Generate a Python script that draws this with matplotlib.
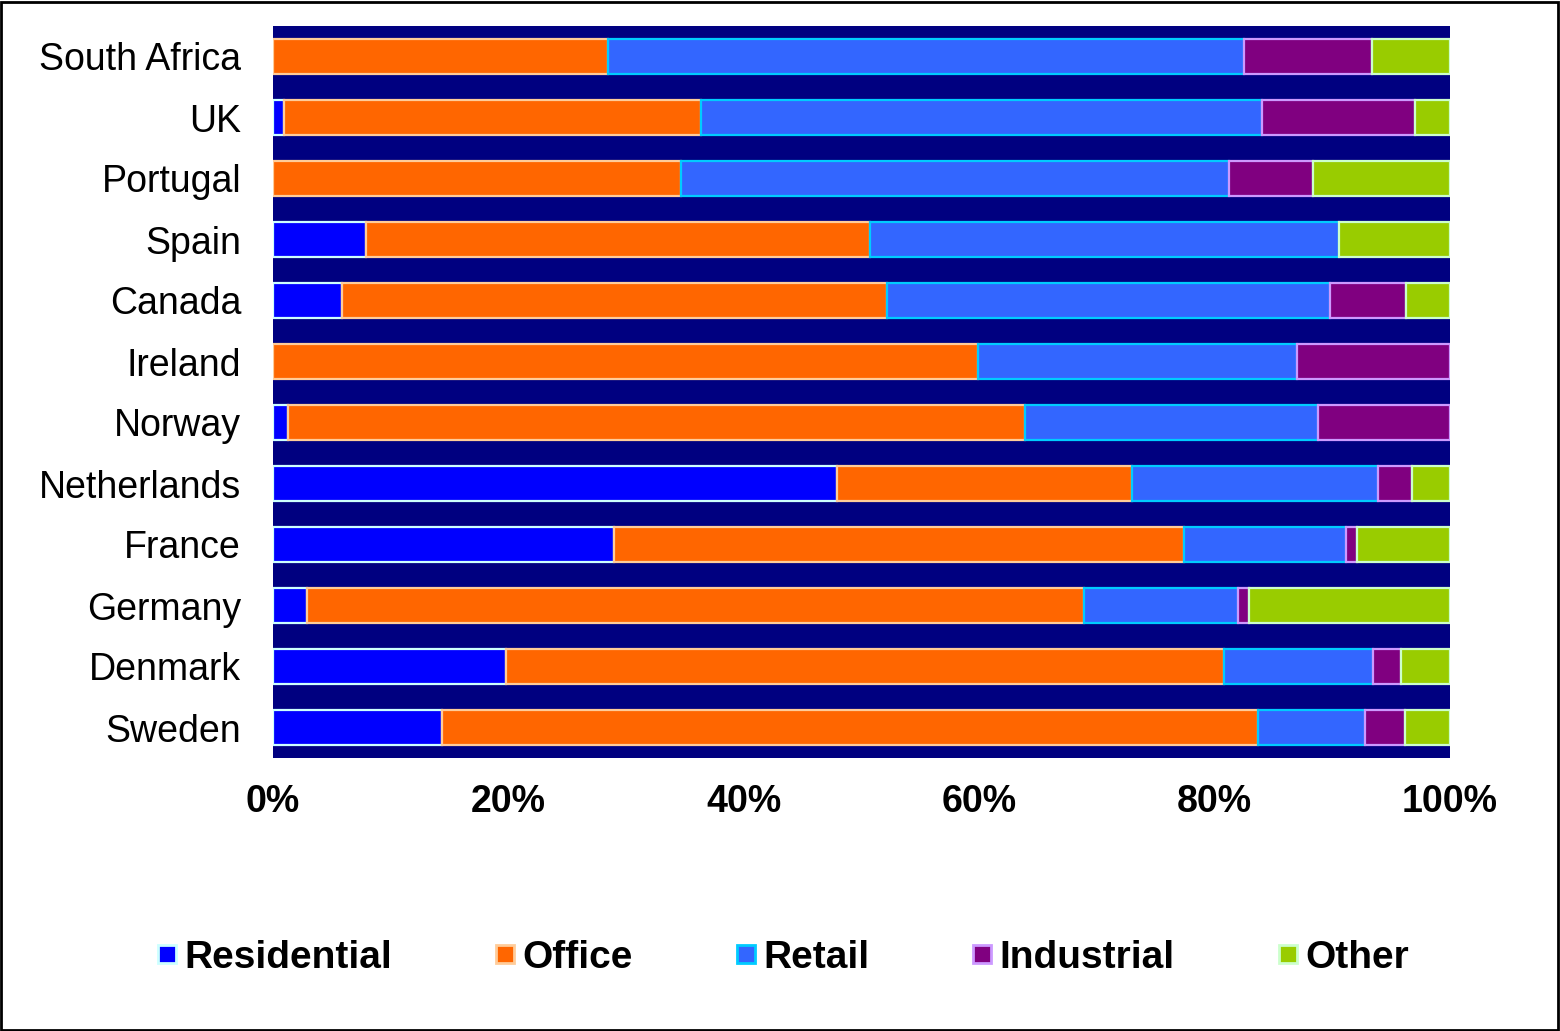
import matplotlib
matplotlib.use("Agg")
import matplotlib.pyplot as plt
from matplotlib.lines import Line2D
from matplotlib.patches import Rectangle
import numpy as np

countries = ["South Africa", "UK", "Portugal", "Spain", "Canada", "Ireland",
             "Norway", "Netherlands", "France", "Germany", "Denmark", "Sweden"]
residential = [0.0, 0.9, 0.0, 7.9, 5.9, 0.0, 1.3, 47.9, 29.0, 2.9, 19.8, 14.4]
office      = [28.5, 35.5, 34.7, 42.8, 46.3, 59.9, 62.6, 25.1, 48.4, 66.0, 61.0, 69.3]
retail      = [54.0, 47.6, 46.5, 39.9, 37.6, 27.1, 24.9, 20.9, 13.8, 13.1, 12.7, 9.1]
industrial  = [10.9, 13.0, 7.2, 0.0, 6.5, 13.0, 11.2, 2.9, 0.9, 0.9, 2.3, 3.4]
other       = [6.6, 3.0, 11.6, 9.4, 3.7, 0.0, 0.0, 3.2, 7.9, 17.1, 4.2, 3.8]
series_names = ["Residential", "Office", "Retail", "Industrial", "Other"]
xticks = [0, 20, 40, 60, 80, 100]
xtick_labels = ["0%", "20%", "40%", "60%", "80%", "100%"]

faces = ["#0000FF", "#FF6600", "#3366FF", "#800080", "#99CC00"]
edges = ["#CCFFFF", "#FFCC99", "#00CCFF", "#CC99FF", "#CCFFCC"]

plt.rcParams['font.family'] = ['Liberation Sans', 'DejaVu Sans']

fig = plt.figure(figsize=(15.6, 10.31), dpi=100)
ax = fig.add_axes([273/1560, 1-758/1031, (1450-273)/1560, (758-26)/1031])
ax.set_facecolor("#000080")

y = np.arange(len(countries))[::-1]
data = [residential, office, retail, industrial, other]
left = np.zeros(len(countries))
for vals, fc, ec, name in zip(data, faces, edges, series_names):
    vals = np.array(vals)
    mask = vals > 0
    ax.barh(y[mask], vals[mask], left=left[mask], height=0.59, color=fc,
            edgecolor=ec, linewidth=1.6, label=name)
    left += vals

ax.set_xlim(0, 100)
ax.set_ylim(-0.5, len(countries) - 0.5)
ax.set_yticks(y)
ax.set_yticklabels(countries, fontsize=27)
ax.set_xticks(xticks)
ax.set_xticklabels(xtick_labels, fontsize=27, fontweight='bold')
ax.tick_params(axis='y', length=0, pad=23)
ax.tick_params(axis='x', length=0, pad=19)
for s in ax.spines.values():
    s.set_visible(False)

handles = [Line2D([], [], marker='s', linestyle='none', markersize=13,
                  markerfacecolor=fc, markeredgecolor=ec, markeredgewidth=2)
           for fc, ec in zip(faces, edges)]
fig.legend(handles, series_names, loc='center', bbox_to_anchor=(0.502, 1-958/1031),
           ncol=5, frameon=False, prop={'size': 28, 'weight': 'bold'},
           handlelength=0.5, handletextpad=0.2, columnspacing=2.65)

fig.patches.append(Rectangle((0.0005, 0.0005), 0.998, 0.998, transform=fig.transFigure,
                             fill=False, edgecolor='black', linewidth=2))

fig.savefig("out.png", dpi=100)
